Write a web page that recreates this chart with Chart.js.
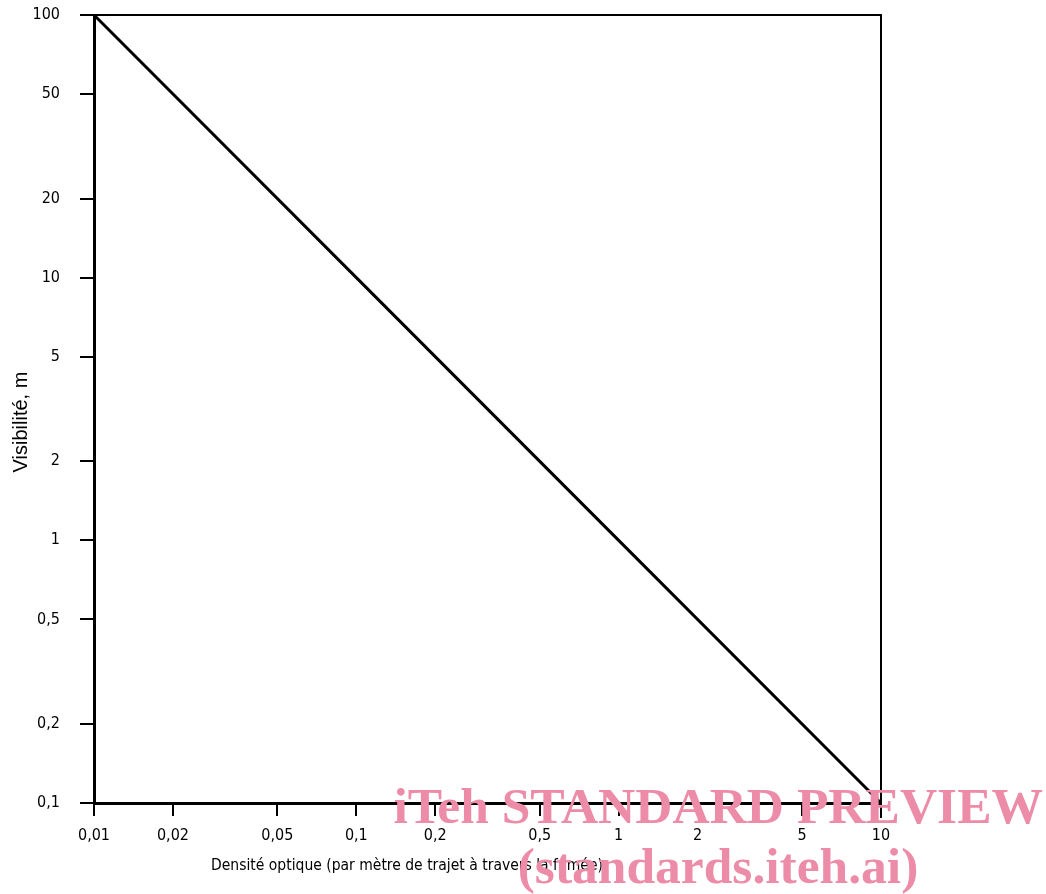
<!DOCTYPE html>
<html>
<head>
<meta charset="utf-8">
<script src="https://cdn.jsdelivr.net/npm/chart.js@4.4.1/dist/chart.umd.min.js"></script>
<style>
  html, body { margin: 0; padding: 0; background: #fff; }
  #wrap { position: relative; width: 1046px; height: 894px; }
</style>
</head>
<body>
<div id="wrap"><canvas id="c" width="1046" height="894"></canvas></div>
<script>
// values
const densite = [0.01, 0.1, 1, 10]
const visibilite = [100, 10, 1, 0.1]
const xTicks = [0.01, 0.02, 0.05, 0.1, 0.2, 0.5, 1, 2, 5, 10]
const yTicks = [0.1, 0.2, 0.5, 1, 2, 5, 10, 20, 50, 100]
const xTitle = 'Densité optique (par mètre de trajet à travers la fumée)'
const yTitle = 'Visibilité, m'
const watermark = ['iTeh STANDARD PREVIEW', '(standards.iteh.ai)']

const FONT = '"DejaVu Sans Condensed", "DejaVu Sans", sans-serif'
const comma = v => String(v).replace('.', ',')

// top + right frame, axis titles, watermark
const extras = {
  id: 'extras',
  afterDraw(chart) {
    const { ctx, chartArea: a } = chart
    ctx.save()
    ctx.strokeStyle = '#000'
    ctx.lineWidth = 2
    ctx.beginPath()
    ctx.moveTo(a.left - 14, a.top)
    ctx.lineTo(a.right, a.top)
    ctx.lineTo(a.right, a.bottom + 15)
    ctx.stroke()

    ctx.fillStyle = '#000'
    ctx.font = '15.5px ' + FONT
    ctx.textAlign = 'center'
    ctx.textBaseline = 'middle'
    ctx.fillText(xTitle, 407, 866)

    ctx.save()
    ctx.translate(21, 422)
    ctx.rotate(-Math.PI / 2)
    ctx.font = '20px "Liberation Sans", Arial, sans-serif'
    ctx.fillText(yTitle, 0, 0)
    ctx.restore()

    ctx.fillStyle = 'rgb(236,140,168)'
    ctx.font = 'bold 51.5px "Liberation Serif", "DejaVu Serif", serif'
    ctx.textBaseline = 'alphabetic'
    ctx.textAlign = 'right'
    ctx.fillText(watermark[0], 1043, 823)
    ctx.textAlign = 'center'
    ctx.fillText(watermark[1], 718, 883)
    ctx.restore()
  }
}

const tickOpts = {
  color: '#000',
  font: { family: FONT, size: 16 },
  autoSkip: false,
  maxRotation: 0,
  callback: v => comma(v)
}

new Chart(document.getElementById('c'), {
  type: 'scatter',
  data: {
    datasets: [{
      data: densite.map((x, i) => ({ x, y: visibilite[i] })),
      showLine: true,
      borderColor: '#000',
      borderWidth: 3,
      pointRadius: 0
    }]
  },
  options: {
    responsive: false,
    animation: false,
    layout: { autoPadding: false, padding: { left: 0, top: 15, right: 165, bottom: 0 } },
    plugins: { legend: { display: false }, tooltip: { enabled: false } },
    scales: {
      x: {
        type: 'logarithmic',
        min: 0.01,
        max: 10,
        afterBuildTicks: s => { s.ticks = xTicks.map(value => ({ value })) },
        afterFit: s => { s.height = 91; s.paddingLeft = 0; s.paddingRight = 0 },
        ticks: { ...tickOpts, padding: 10 },
        grid: { drawOnChartArea: false, drawTicks: true, tickLength: 13, color: '#000', lineWidth: 2 },
        border: { display: true, color: '#000', width: 3 }
      },
      y: {
        type: 'logarithmic',
        min: 0.1,
        max: 100,
        afterBuildTicks: s => { s.ticks = yTicks.map(value => ({ value })) },
        afterFit: s => { s.width = 94; s.paddingTop = 0; s.paddingBottom = 0 },
        ticks: { ...tickOpts, padding: 20 },
        grid: { drawOnChartArea: false, drawTicks: true, tickLength: 14, color: '#000', lineWidth: 2 },
        border: { display: true, color: '#000', width: 3 }
      }
    }
  },
  plugins: [extras]
})
</script>
</body>
</html>
